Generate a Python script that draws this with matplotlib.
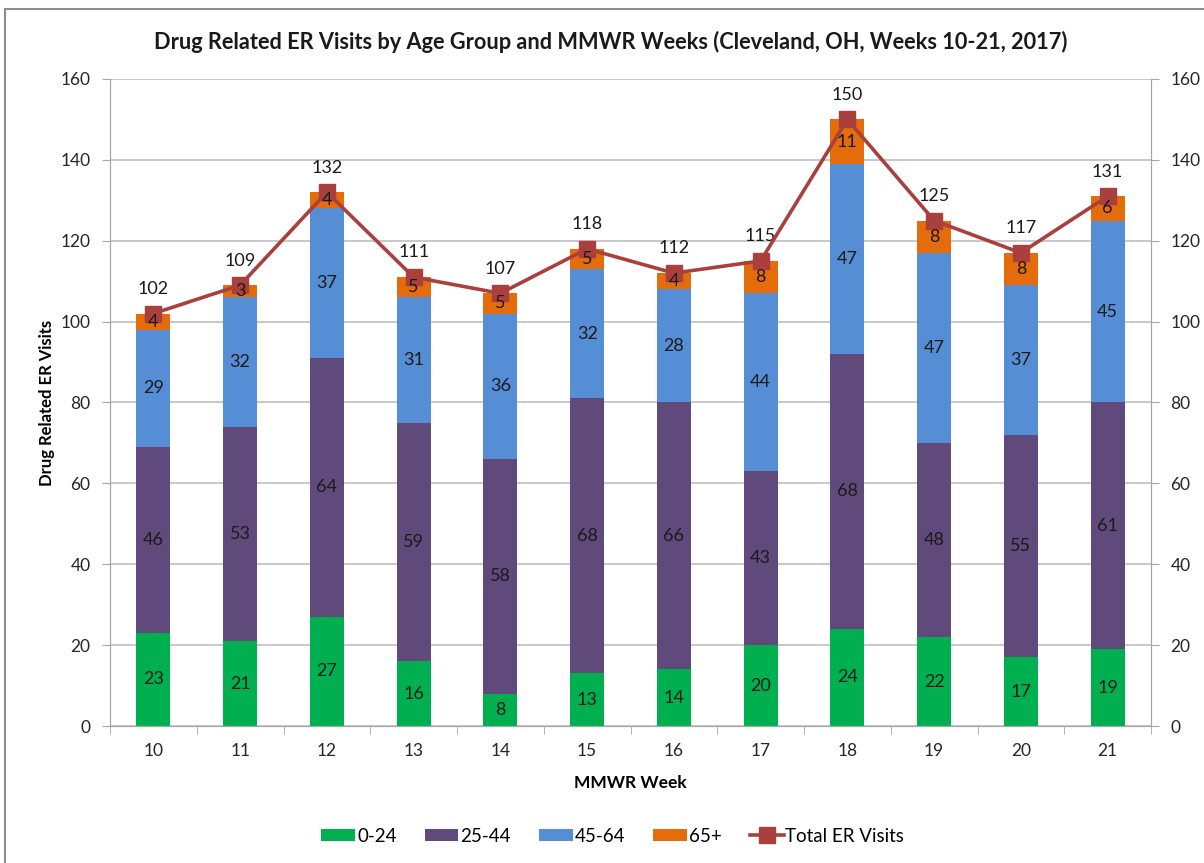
import matplotlib.pyplot as plt
import matplotlib.ticker as ticker
from matplotlib.patches import Rectangle
import numpy as np

plt.rcParams['font.family'] = ['Lato', 'DejaVu Sans']

weeks = ['10', '11', '12', '13', '14', '15', '16', '17', '18', '19', '20', '21']
age_0_24 = [23, 21, 27, 16, 8, 13, 14, 20, 24, 22, 17, 19]
age_25_44 = [46, 53, 64, 59, 58, 68, 66, 43, 68, 48, 55, 61]
age_45_64 = [29, 32, 37, 31, 36, 32, 28, 44, 47, 47, 37, 45]
age_65_plus = [4, 3, 4, 5, 5, 5, 4, 8, 11, 8, 8, 6]
total_visits = [102, 109, 132, 111, 107, 118, 112, 115, 150, 125, 117, 131]

groups = [('0-24', age_0_24, '#00B050'),
          ('25-44', age_25_44, '#604A7B'),
          ('45-64', age_45_64, '#558ED5'),
          ('65+', age_65_plus, '#E46C0A')]
line_color = '#AA403D'
grid_color = '#BFBFBF'
axis_color = '#A6A6A6'

fig = plt.figure(figsize=(12.04, 8.63), dpi=100)
fig.patches.append(Rectangle((5 / 1204, -0.05), 1.2, 1 + 0.05 - 9.5 / 863,
                             transform=fig.transFigure, fill=False,
                             edgecolor='#8C8C8C', linewidth=1.5))
ax = fig.add_axes([110 / 1204, 137 / 863, 1041 / 1204, 647 / 863])

x = np.arange(len(weeks))
bottom = np.zeros(len(weeks))
handles = []
for name, vals, color in groups:
    bars = ax.bar(x, vals, width=0.39, bottom=bottom, color=color, label=name, zorder=2)
    handles.append(bars)
    for xi, b, v in zip(x, bottom, vals):
        ax.text(xi, b + v / 2, str(v), ha='center', va='center', fontsize=13,
                color='#1a1a1a', zorder=5)
    bottom += np.array(vals)

line, = ax.plot(x, total_visits, color=line_color, linewidth=2.6, marker='s',
                markersize=11, label='Total ER Visits', zorder=4)
for xi, v in zip(x, total_visits):
    ax.annotate(str(v), (xi, v), xytext=(0, 12), textcoords='offset points',
                ha='center', va='bottom', fontsize=13, color='#1a1a1a')

ax.set_xlim(-0.5, len(weeks) - 0.5)
ax.set_ylim(0, 160)
ax.yaxis.set_major_locator(ticker.MultipleLocator(20))
ax.set_xticks(x)
ax.set_xticklabels(weeks)
ax.xaxis.set_minor_locator(ticker.FixedLocator(np.arange(-0.5, len(weeks), 1)))
ax.tick_params(axis='x', which='major', length=0, pad=12, labelsize=12.5, labelcolor='#262626')
ax.tick_params(axis='x', which='minor', length=6, color=axis_color)
ax.tick_params(axis='y', length=6, color=axis_color, labelsize=12.5, labelcolor='#262626', pad=8)
ax.yaxis.grid(True, color=grid_color, linewidth=1.2, zorder=0)
ax.set_axisbelow(True)
for side in ['left', 'right', 'bottom']:
    ax.spines[side].set_color(axis_color)
ax.spines['top'].set_visible(False)

ax2 = ax.twinx()
ax2.set_ylim(0, 160)
ax2.yaxis.set_major_locator(ticker.MultipleLocator(20))
ax2.tick_params(axis='y', length=6, color=axis_color, labelsize=12.5, labelcolor='#262626', pad=8)
for side in ['left', 'right', 'bottom']:
    ax2.spines[side].set_color(axis_color)
ax2.spines['top'].set_visible(False)

ax.set_ylabel('Drug Related ER Visits', fontsize=12, fontweight='bold', labelpad=4)
ax.set_xlabel('MMWR Week', fontsize=12.5, fontweight='bold', labelpad=12)
fig.text(0.5 + 9 / 1204, 1 - 42 / 863,
         'Drug Related ER Visits by Age Group and MMWR Weeks (Cleveland, OH, Weeks 10-21, 2017)',
         ha='center', va='center', fontsize=15.7, fontweight='bold', color='#1a1a1a')

fig.legend(handles + [line], [g[0] for g in groups] + ['Total ER Visits'],
           loc='center', bbox_to_anchor=(0.509, 1 - 836 / 863), ncol=5, frameon=False,
           fontsize=13.5, handlelength=1.8, handleheight=0.65, columnspacing=1.5,
           handletextpad=0.1)

fig.savefig('out.png', dpi=100)
